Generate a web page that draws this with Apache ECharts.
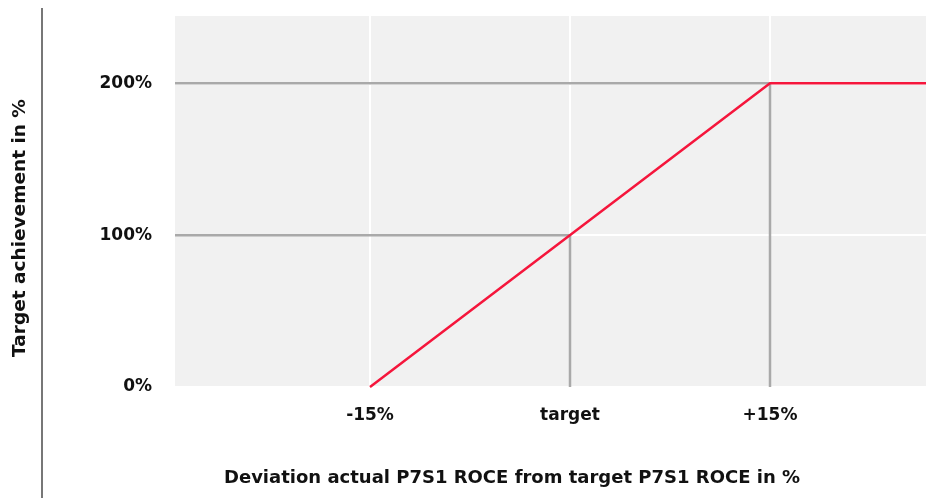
<!DOCTYPE html>
<html>
<head>
<meta charset="utf-8">
<script src="https://cdn.jsdelivr.net/npm/echarts@6/dist/echarts.min.js"></script>
<style>
  html, body { margin: 0; padding: 0; background: #fff; }
  #chart { width: 926px; height: 498px; }
</style>
</head>
<body>
<div id="chart"></div>
<script>
// axis ranges
const xMin = -29.625;
const xMax = 26.7;
const yMax = 245;

// x ticks and their labels
const xTicks = [-15, 0, 15];
const xTickLabels = ['-15%', 'target', '+15%'];
const yTicks = [0, 100, 200];

// payout curve
const curveX = [-15, 15, xMax];
const curveY = [0, 200, 200];

// grey guide lines (cap at +15%, target at 100%)
const capGuideX = [xMin, 15, 15];
const capGuideY = [200, 200, 0];
const targetGuideX = [xMin, 0, 0];
const targetGuideY = [100, 100, 0];

const font = 'DejaVu Sans';
const zip = (xs, ys) => xs.map((x, i) => [x, ys[i]]);

const chart = echarts.init(document.getElementById('chart'));

chart.setOption({
  animation: false,
  grid: {
    left: 175,
    right: 0,
    top: 15,
    bottom: 111,
    show: true,
    backgroundColor: '#f1f1f1',
    borderWidth: 0,
  },
  xAxis: {
    type: 'value',
    min: xMin,
    max: xMax,
    axisLine: { show: false },
    axisTick: { show: false },
    splitLine: { show: false },
    axisLabel: {
      customValues: xTicks,
      margin: 20,
      color: '#111',
      fontFamily: font,
      fontWeight: 'bold',
      fontSize: 17,
      formatter: (v) => {
        const i = xTicks.indexOf(v);
        return i >= 0 ? xTickLabels[i] : '';
      },
    },
  },
  yAxis: {
    type: 'value',
    min: 0,
    max: yMax,
    interval: 100,
    axisLine: { show: false },
    axisTick: { show: false },
    splitLine: { lineStyle: { color: '#ffffff', width: 2 } },
    axisLabel: {
      margin: 23,
      color: '#111',
      fontFamily: font,
      fontWeight: 'bold',
      fontSize: 17,
      formatter: (v) => (yTicks.includes(v) ? v + '%' : ''),
    },
  },
  series: [
    {
      type: 'line',
      silent: true,
      symbol: 'none',
      data: [],
      markLine: {
        silent: true,
        symbol: 'none',
        label: { show: false },
        lineStyle: { color: '#ffffff', width: 2, type: 'solid' },
        data: xTicks.map((x) => ({ xAxis: x })),
      },
      z: 1,
    },
    {
      type: 'line',
      symbol: 'none',
      data: zip(capGuideX, capGuideY),
      lineStyle: { color: '#a9a9a9', width: 2.5 },
      z: 10,
    },
    {
      type: 'line',
      symbol: 'none',
      data: zip(targetGuideX, targetGuideY),
      lineStyle: { color: '#a9a9a9', width: 2.5 },
      z: 10,
    },
    {
      type: 'line',
      symbol: 'none',
      data: zip(curveX, curveY),
      lineStyle: { color: '#f5163c', width: 2.5 },
      z: 20,
    },
  ],
  graphic: [
    {
      type: 'line',
      shape: { x1: 42, y1: 8, x2: 42, y2: 498 },
      style: { stroke: '#777', lineWidth: 2 },
    },
    {
      type: 'text',
      x: 20,
      y: 228,
      rotation: Math.PI / 2,
      style: {
        text: 'Target achievement in %',
        fill: '#111',
        font: 'bold 18.5px "DejaVu Sans"',
        align: 'center',
        verticalAlign: 'middle',
      },
    },
    {
      type: 'text',
      x: 512,
      y: 478,
      style: {
        text: 'Deviation actual P7S1 ROCE from target P7S1 ROCE in %',
        fill: '#111',
        font: 'bold 18px "DejaVu Sans"',
        align: 'center',
        verticalAlign: 'middle',
      },
    },
  ],
});
</script>
</body>
</html>
